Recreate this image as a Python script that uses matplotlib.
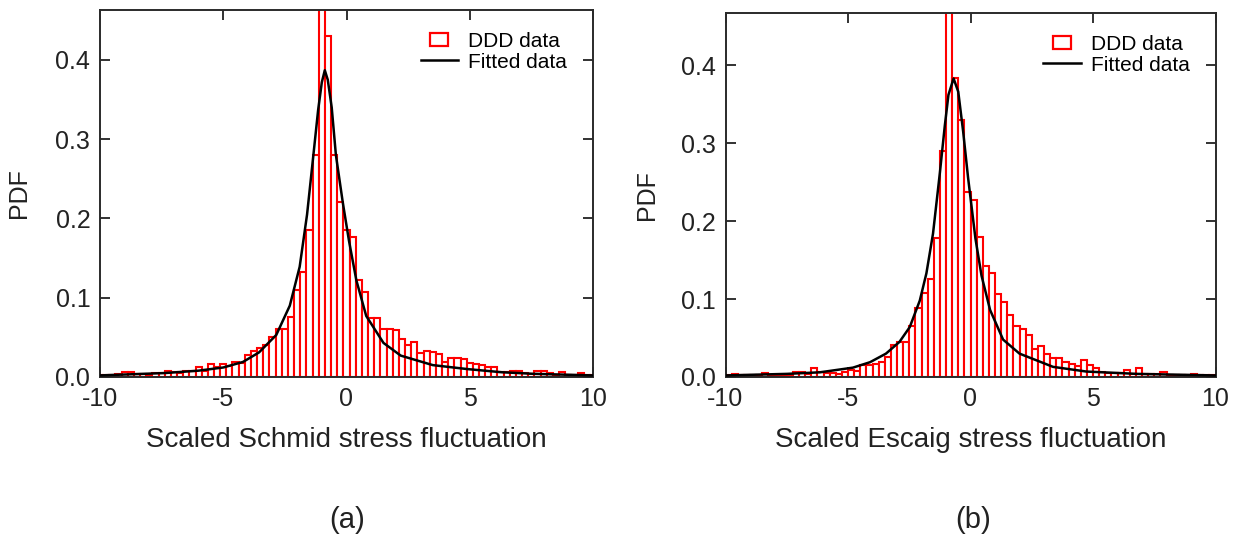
import numpy as np
import matplotlib
matplotlib.use("Agg")
import matplotlib.pyplot as plt
import matplotlib.patches as mpatches
from matplotlib.lines import Line2D
from matplotlib.legend_handler import HandlerPatch

plt.rcParams["font.family"] = ["Liberation Sans", "DejaVu Sans"]
plt.rcParams["axes.unicode_minus"] = False

# (a) Schmid stress: bin centres -10..10 step 0.25
schmid_centers = np.arange(-10, 10.001, 0.25)
schmid_pdf = [
    0.003, 0.003, 0.003, 0.004, 0.006, 0.006, 0.004, 0.004, 0.003, 0.005,
    0.005, 0.007, 0.006, 0.005, 0.008, 0.008, 0.012, 0.008, 0.016, 0.013,
    0.017, 0.014, 0.019, 0.018, 0.028, 0.033, 0.036, 0.041, 0.050, 0.061,
    0.061, 0.076, 0.110, 0.133, 0.185, 0.280, 0.480, 0.430, 0.280, 0.221,
    0.185, 0.176, 0.122, 0.107, 0.0745, 0.0745, 0.061, 0.061, 0.059, 0.048,
    0.040, 0.044, 0.030, 0.033, 0.031, 0.029, 0.019, 0.024, 0.024, 0.023,
    0.018, 0.017, 0.015, 0.012, 0.012, 0.006, 0.006, 0.008, 0.007, 0.005,
    0.004, 0.008, 0.008, 0.005, 0.003, 0.006, 0.003, 0.003, 0.005, 0.003,
    0.003,
]
schmid_fit_x = [-10, -7.35, -6.0, -5.0, -4.2, -3.55, -2.85, -2.3, -1.9, -1.6,
                -1.35, -1.15, -1.0, -0.88, -0.76, -0.6, -0.43, -0.15, 0.1,
                0.4, 0.8, 1.5, 2.2, 3.5, 4.9, 6.3, 7.6, 10]
schmid_fit_y = [0.002, 0.005, 0.008, 0.012, 0.019, 0.031, 0.053, 0.090, 0.139,
                0.205, 0.278, 0.337, 0.372, 0.387, 0.375, 0.340, 0.280, 0.220,
                0.172, 0.122, 0.077, 0.043, 0.027, 0.015, 0.010, 0.006, 0.004,
                0.002]

# (b) Escaig stress: bin centres -9.875..9.875 step 0.25
escaig_centers = np.arange(-9.875, 9.9, 0.25)
escaig_pdf = [
    0.003, 0.004, 0.002, 0.002, 0.002, 0.003, 0.005, 0.003, 0.002, 0.003,
    0.003, 0.006, 0.006, 0.004, 0.011, 0.006, 0.005, 0.005, 0.004, 0.006,
    0.009, 0.008, 0.015, 0.015, 0.017, 0.019, 0.026, 0.041, 0.045, 0.045,
    0.065, 0.088, 0.108, 0.126, 0.178, 0.290, 0.480, 0.384, 0.330, 0.237,
    0.227, 0.180, 0.142, 0.133, 0.107, 0.096, 0.080, 0.066, 0.062, 0.054,
    0.036, 0.040, 0.030, 0.024, 0.024, 0.019, 0.017, 0.014, 0.022, 0.015,
    0.012, 0.006, 0.005, 0.005, 0.005, 0.009, 0.004, 0.012, 0.004, 0.004,
    0.004, 0.007, 0.003, 0.002, 0.002, 0.003, 0.004, 0.002, 0.002, 0.002,
]
escaig_fit_x = [-10, -7.5, -6.15, -4.8, -4.1, -3.45, -2.9, -2.48, -2.07, -1.8,
                -1.53, -1.25, -1.05, -0.9, -0.69, -0.5, -0.3, -0.1, 0.2, 0.45,
                0.8, 1.33, 2.0, 3.37, 4.73, 6.8, 10]
escaig_fit_y = [0.002, 0.004, 0.006, 0.012, 0.019, 0.030, 0.045, 0.064, 0.098,
                0.133, 0.184, 0.262, 0.322, 0.362, 0.383, 0.366, 0.315, 0.256,
                0.178, 0.130, 0.086, 0.048, 0.030, 0.013, 0.007, 0.004, 0.002]

x_ticks = [-10, -5, 0, 5, 10]
y_ticks = [0.0, 0.1, 0.2, 0.3, 0.4]


def small_box(legend, orig_handle, xdescent, ydescent, width, height, fontsize):
    w = 0.48 * width
    h = 0.85 * height
    return mpatches.Rectangle((-xdescent + (width - w) / 2, -ydescent + (height - h) / 2), w, h)


def draw_panel(ax, centers, pdf, fit_x, fit_y, ylim_top, xlabel, ylabel_x):
    ax.bar(centers, pdf, width=0.25, facecolor="white", edgecolor="red",
           linewidth=1.5, zorder=2)
    ax.plot(fit_x, fit_y, color="black", linewidth=1.8, zorder=3)
    ax.set_xlim(-10, 10)
    ax.set_ylim(0, ylim_top)
    ax.set_xticks(x_ticks)
    ax.set_xticklabels([str(t) for t in x_ticks])
    ax.set_yticks(y_ticks)
    ax.set_yticklabels(["%.1f" % t for t in y_ticks])
    ax.tick_params(direction="in", length=7, width=1.3, top=True, right=True,
                   labelsize=18, colors="#222222", pad=7)
    for s in ax.spines.values():
        s.set_color("#2a2a2a")
        s.set_linewidth(1.4)
    ax.set_xlabel(xlabel, fontsize=20, color="#222222", labelpad=12)
    ax.set_ylabel("PDF", fontsize=18, color="#222222")
    ax.yaxis.set_label_coords(ylabel_x, 0.5)

    box = mpatches.Rectangle((0, 0), 1, 1, facecolor="white", edgecolor="red", linewidth=1.6)
    line = Line2D([], [], color="black", linewidth=1.8)
    ax.legend([box, line], ["DDD data", "Fitted data"], loc="upper right",
              bbox_to_anchor=(0.986, 0.992), frameon=False, fontsize=15,
              handlelength=1.8, handletextpad=0.5, labelspacing=0.1,
              handler_map={mpatches.Rectangle: HandlerPatch(patch_func=small_box)})


fig = plt.figure(figsize=(12.47, 5.42), dpi=100)
ax1 = fig.add_axes([100 / 1247, 165 / 542, 493 / 1247, 367 / 542])
ax2 = fig.add_axes([725.5 / 1247, 165 / 542, 490 / 1247, 364 / 542])

draw_panel(ax1, schmid_centers, schmid_pdf, schmid_fit_x, schmid_fit_y, 0.463,
           "Scaled Schmid stress fluctuation", -0.14)
draw_panel(ax2, escaig_centers, escaig_pdf, escaig_fit_x, escaig_fit_y, 0.467,
           "Scaled Escaig stress fluctuation", -0.136)

fig.text(347 / 1247, 1 - 520 / 542, "(a)", fontsize=21, ha="center", va="center", color="#222222")
fig.text(973 / 1247, 1 - 520 / 542, "(b)", fontsize=21, ha="center", va="center", color="#222222")

fig.savefig("out.png", dpi=100)
